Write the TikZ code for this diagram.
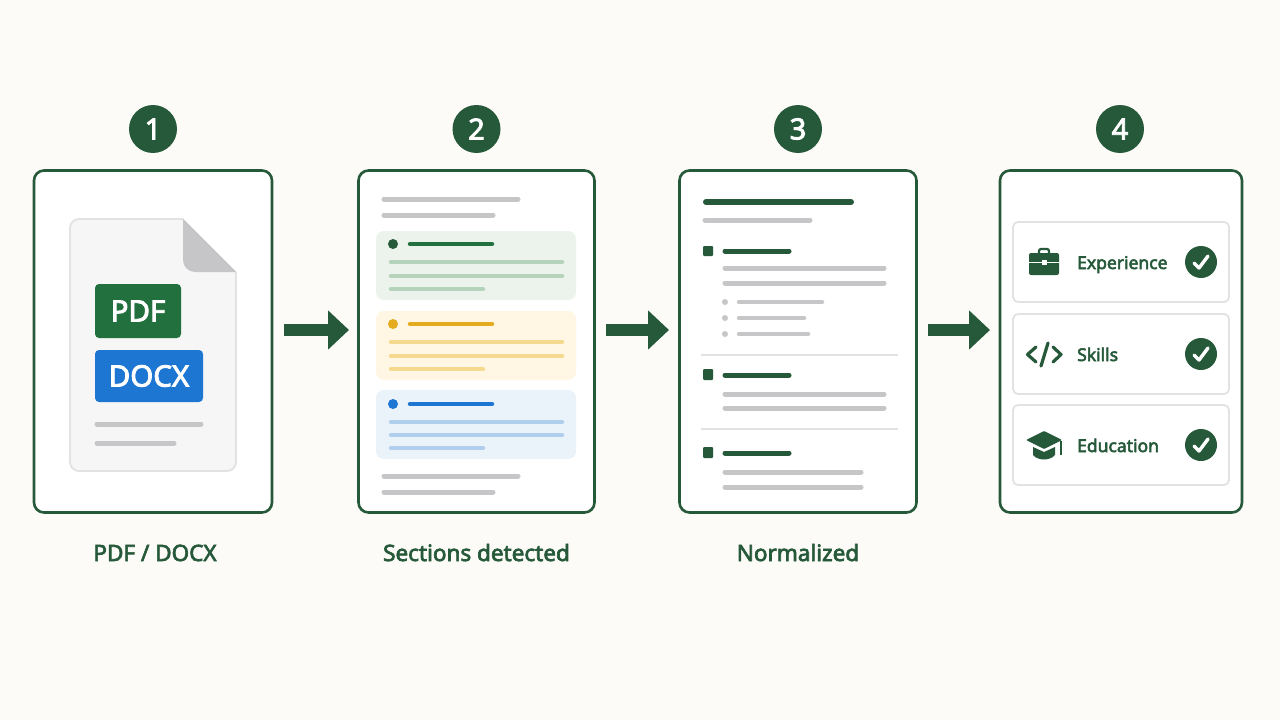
\documentclass[tikz,border=0pt]{standalone}
\usepackage{fontspec}
\setmainfont{Noto Sans}[BoldFont={Noto Sans},BoldFeatures={FakeBold=3}]
\usepackage{tikz}
\usetikzlibrary{arrows.meta,calc,positioning}
\definecolor{pagebg}{HTML}{FDFBF7}
\definecolor{darkgreen}{HTML}{26593A}
\definecolor{pdfgreen}{HTML}{23703F}
\definecolor{docblue}{HTML}{1C76D2}
\definecolor{greybar}{HTML}{C6C6C8}
\definecolor{hairline}{HTML}{E2E2E2}
\definecolor{greenpanel}{HTML}{EBF3EC}
\definecolor{greenbar}{HTML}{B5D3BB}
\definecolor{amber}{HTML}{E4AB1E}
\definecolor{amberpanel}{HTML}{FFF7E3}
\definecolor{amberbar}{HTML}{F5D98F}
\definecolor{bluepanel}{HTML}{EAF2FA}
\definecolor{bluebar}{HTML}{AFCFEC}
\tikzset{
    card/.style ={rectangle, rounded corners=10pt, draw=darkgreen, line width=2.6pt, fill=white, minimum width=#1, minimum height=342pt, inner sep=0pt},
    badge/.style ={circle, fill=darkgreen, text=white, minimum size=48pt, inner sep=0pt, font=\fontsize{29}{30}\selectfont\bfseries},
    steplabel/.style ={text=darkgreen, inner sep=0pt, text height=16pt, text depth=4pt, font=\fontsize{22.5}{24}\selectfont\bfseries},
    filetag/.style ={rectangle, rounded corners=4pt, text=white, inner sep=0pt, font=\fontsize{29.5}{30}\selectfont\bfseries},
    panel/.style ={rectangle, rounded corners=8pt, minimum width=200pt, minimum height=69pt, inner sep=0pt},
    rowbox/.style ={rectangle, rounded corners=5pt, draw=hairline, line width=1.8pt, fill=white, minimum width=216pt, minimum height=80pt, inner sep=0pt},
    rowtext/.style ={text=darkgreen, anchor=west, inner sep=0pt, text height=14pt, text depth=4pt, font=\fontsize{17.5}{20}\selectfont\bfseries},
    okdot/.style ={circle, fill=darkgreen, minimum size=32pt, inner sep=0pt},
    flow/.style ={line width=12pt, draw=darkgreen, -{Triangle[length=21pt,width=38pt,fill=darkgreen]}},
    bar/.style ={line cap=round, line width=#1},
    bar/.default=5pt,
    tick/.style ={draw=white, line width=3.4pt, line cap=round, line join=round}
}
\begin{document}
\begin{tikzpicture}[x=1pt,y=-1pt]
    \path[use as bounding box, fill=pagebg] (0,0) rectangle (1280,720);

    %%Cards
    \node[card=238pt] (card1) at (153,341.5) {};
    \node[card=236pt] (card2) at (476.5,341.5) {};
    \node[card=237pt] (card3) at (798,341.5) {};
    \node[card=242pt] (card4) at (1121,341.5) {};

    %%Step numbers
    \node[badge] (num1) [above=16pt of card1] {1};
    \node[badge] (num2) [above=16pt of card2] {2};
    \node[badge] (num3) [above=16pt of card3] {3};
    \node[badge] (num4) [above=16pt of card4, xshift=-1pt] {4};

    %%Captions
    \node[steplabel] (cap1) [below=31pt of card1, xshift=2pt] {PDF / DOCX};
    \node[steplabel] (cap2) [below=31pt of card2] {Sections detected};
    \node[steplabel] (cap3) [below=31pt of card3] {Normalized};

    % Arrows
    \coordinate (a1s) at (284,330);
    \coordinate (a1e) at (349,330);
    \coordinate (a2s) at (606,330);
    \coordinate (a2e) at (669,330);
    \coordinate (a3s) at (928,330);
    \coordinate (a3e) at (990,330);
    \path (a1s) edge[flow] (a1e);
    \path (a2s) edge[flow] (a2e);
    \path (a3s) edge[flow] (a3e);

    % Card 1
    \draw[draw=hairline, line width=1.8pt, fill=gray!7, rounded corners=9pt] (183,219) -- (70,219) -- (70,471) -- (236,471) [sharp corners] -- (236,272);
    \path[fill=gray!7] (183,219) -- (236,272) -- (183,272) -- cycle;
    \path[fill=greybar] (183,218.5) [rounded corners=12pt] -- (183,272) [sharp corners] -- (236.5,272) -- cycle;
    \node[filetag, fill=pdfgreen, minimum width=86pt, minimum height=54pt] (pdf) at (138,311) {PDF};
    \node[filetag, fill=docblue, minimum width=108pt, minimum height=52pt] (docx) at (149,376) {DOCX};
    \draw[bar=5pt, greybar] (97,424) -- (201,424);
    \draw[bar=5pt, greybar] (97,443) -- (174,443);

    % Card 2
    \draw[bar, greybar] (384,199) -- (518,199);
    \draw[bar, greybar] (384,215) -- (493,215);
    \node[panel, fill=greenpanel] (sec1) at (476,265.5) {};
    \fill[darkgreen] (393,244) circle (5pt);
    \draw[bar=4.5pt, pdfgreen] (410,244) -- (492,244);
    \draw[bar=4.5pt, greenbar] (391,262) -- (562,262);
    \draw[bar=4.5pt, greenbar] (391,276) -- (562,276);
    \draw[bar=4.5pt, greenbar] (391,289) -- (483,289);
    \node[panel, fill=amberpanel] (sec2) at (476,345.5) {};
    \fill[amber] (393,324) circle (5pt);
    \draw[bar=4.5pt, amber] (410,324) -- (492,324);
    \draw[bar=4.5pt, amberbar] (391,342) -- (562,342);
    \draw[bar=4.5pt, amberbar] (391,356) -- (562,356);
    \draw[bar=4.5pt, amberbar] (391,369) -- (483,369);
    \node[panel, fill=bluepanel] (sec3) at (476,424.5) {};
    \fill[docblue] (393,404) circle (5pt);
    \draw[bar=4.5pt, docblue] (410,404) -- (492,404);
    \draw[bar=4.5pt, bluebar] (391,422) -- (562,422);
    \draw[bar=4.5pt, bluebar] (391,435) -- (562,435);
    \draw[bar=4.5pt, bluebar] (391,448) -- (483,448);
    \draw[bar, greybar] (384,476) -- (518,476);
    \draw[bar, greybar] (384,492) -- (493,492);

    % Card 3
    \draw[bar=6pt, darkgreen] (706,202) -- (851,202);
    \draw[bar, greybar] (705,220) -- (810,220);
    \fill[darkgreen, rounded corners=1pt] (703,246) rectangle (713,256);
    \draw[bar, darkgreen] (725,251) -- (789,251);
    \draw[bar, greybar] (725,268) -- (884,268);
    \draw[bar, greybar] (725,283) -- (884,283);
    \fill[greybar] (725,302) circle (3pt);
    \fill[greybar] (725,318) circle (3pt);
    \fill[greybar] (725,334) circle (3pt);
    \draw[bar=4.5pt, greybar] (739,302) -- (822,302);
    \draw[bar=4.5pt, greybar] (739,318) -- (804,318);
    \draw[bar=4.5pt, greybar] (739,334) -- (808,334);
    \draw[hairline, line width=1.4pt] (701,355) -- (898,355);
    \fill[darkgreen, rounded corners=1pt] (703,369) rectangle (713,380);
    \draw[bar, darkgreen] (725,375) -- (789,375);
    \draw[bar, greybar] (725,394) -- (884,394);
    \draw[bar, greybar] (725,408) -- (884,408);
    \draw[hairline, line width=1.4pt] (701,429) -- (898,429);
    \fill[darkgreen, rounded corners=1pt] (703,447) rectangle (713,458);
    \draw[bar, darkgreen] (725,453) -- (789,453);
    \draw[bar, greybar] (725,472) -- (861,472);
    \draw[bar, greybar] (725,487) -- (861,487);

    % Card 4
    \node[rowbox] (row1) at (1121,262) {};
    \node[rowbox] (row2) at (1121,354) {};
    \node[rowbox] (row3) at (1121,445) {};
    \node[rowtext] (exp) at (1077,264) {Experience};
    \node[rowtext] (skl) at (1077,356) {Skills};
    \node[rowtext] (edu) at (1077,447) {Education};
    \node[okdot] (ok1) at (1201,262) {};
    \node[okdot] (ok2) at (1201,354) {};
    \node[okdot] (ok3) at (1201,445) {};
    \draw[tick] ($(ok1)+(-7,1)$) -- ($(ok1)+(-2,6)$) -- ($(ok1)+(7,-6)$);
    \draw[tick] ($(ok2)+(-7,1)$) -- ($(ok2)+(-2,6)$) -- ($(ok2)+(7,-6)$);
    \draw[tick] ($(ok3)+(-7,1)$) -- ($(ok3)+(-2,6)$) -- ($(ok3)+(7,-6)$);

    %%Briefcase
    \fill[darkgreen, rounded corners=2pt] (1029,253) rectangle (1059,275);
    \draw[darkgreen, line width=2.2pt, rounded corners=2pt] (1039,253) -- (1039,249) -- (1049,249) -- (1049,253);
    \draw[white, line width=1.4pt] (1029,262.5) -- (1059,262.5);
    \fill[white] (1041.5,260) rectangle (1046.5,265);

    %%Code
    \draw[darkgreen, line width=3.2pt, line cap=round, line join=round] (1036,347) -- (1027.5,354.5) -- (1036,362);
    \draw[darkgreen, line width=3.2pt, line cap=round, line join=round] (1053,347) -- (1061,354.5) -- (1053,362);
    \draw[darkgreen, line width=3.2pt, line cap=round] (1048,343) -- (1041,366);

    %%Cap
    \fill[darkgreen, rounded corners=1pt] (1044,431) -- (1062,440) -- (1044,449) -- (1026,440) -- cycle;
    \fill[darkgreen] (1033,447) -- (1044,452) -- (1055,447) -- (1055,455) .. controls (1050,461) and (1038,461) .. (1033,455) -- cycle;
    \draw[darkgreen, line width=1.8pt] (1061,441) -- (1061,455);
\end{tikzpicture}
\end{document}
